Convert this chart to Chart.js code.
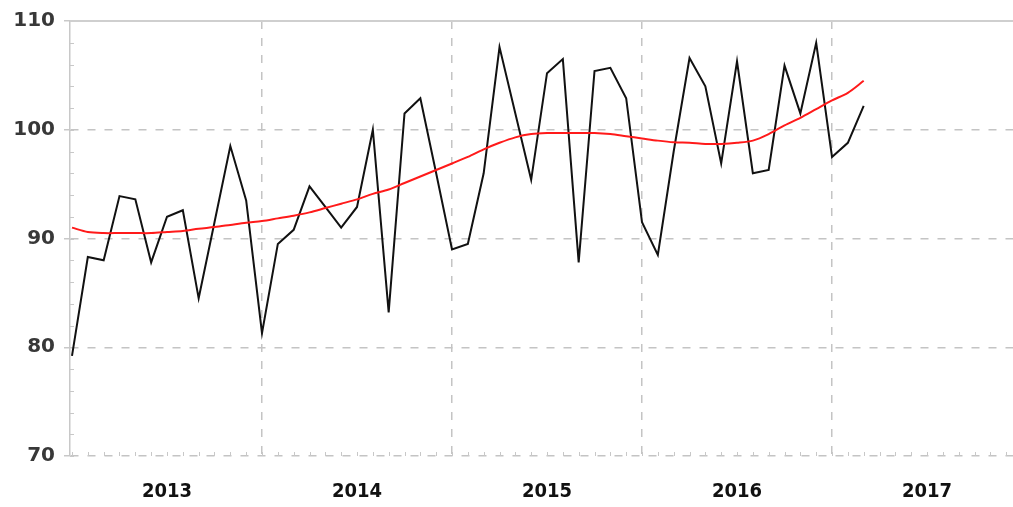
<!DOCTYPE html>
<html>
<head>
<meta charset="utf-8">
<script src="https://cdn.jsdelivr.net/npm/chart.js@4.4.0/dist/chart.umd.min.js"></script>
<style>
  html, body { margin: 0; padding: 0; background: #fff; }
  #wrap { width: 1013px; height: 507px; position: relative; }
</style>
</head>
<body>
<div id="wrap"><canvas id="c"></canvas></div>
<script>
// Monthly index, Jan 2013 .. Mar 2017 (month offset 0 = Jan 2013)
const yearLabels = ['2013', '2014', '2015', '2016', '2017'];
const yTickValues = [70, 80, 90, 100, 110];

// observed monthly series
const observed = [
  79.2, 88.3, 88.0, 93.9, 93.6, 87.8, 92.0, 92.6, 84.5, 91.5, 98.5, 93.5,
  81.3, 89.5, 90.8, 94.8, 92.9, 91.0, 92.9, 100.0, 83.2, 101.5, 102.9, 96.0,
  89.0, 89.5, 96.0, 107.6, 101.5, 95.4, 105.2, 106.5, 87.8, 105.4, 105.7, 102.9,
  91.5, 88.5, 98.0, 106.6, 104.0, 96.9, 106.3, 96.0, 96.3, 105.9, 101.5, 108.0,
  97.5, 98.8, 102.2
];

// smoothed trend
const trend = [
  91.0, 90.6, 90.5, 90.5, 90.5, 90.5, 90.6, 90.7, 90.9, 91.05, 91.25, 91.45,
  91.6, 91.85, 92.1, 92.4, 92.8, 93.2, 93.6, 94.1, 94.5, 95.1, 95.7, 96.3,
  96.9, 97.5, 98.2, 98.8, 99.3, 99.6, 99.7, 99.7, 99.7, 99.7, 99.6, 99.4,
  99.2, 99.0, 98.85, 98.8, 98.7, 98.7, 98.8, 99.0, 99.6, 100.4, 101.1, 101.9,
  102.7, 103.4, 104.5
];

const toPoints = arr => arr.map((v, i) => ({ x: i, y: v }));

const GRID = '#c4c4c4';

// small month ticks on the bottom edge, minor ticks on the left axis, solid top rule
const axisDecor = {
  id: 'axisDecor',
  beforeDatasetsDraw(chart) {
    const { ctx, chartArea: a, scales: { x, y } } = chart;
    ctx.save();
    ctx.strokeStyle = '#c8c8c8';
    ctx.lineWidth = 1;
    ctx.beginPath();
    for (let v = y.min; v <= y.max; v += 2) {
      const py = Math.round(y.getPixelForValue(v)) + 0.5;
      ctx.moveTo(a.left, py);
      ctx.lineTo(a.left + 4, py);
    }
    for (let m = 0; m <= x.max; m++) {
      const px = Math.round(x.getPixelForValue(m)) + 0.5;
      ctx.moveTo(px, a.bottom);
      ctx.lineTo(px, a.bottom - 4);
    }
    ctx.stroke();
    ctx.strokeStyle = '#cfcfcf';
    ctx.lineWidth = 2;
    ctx.beginPath();
    const top = Math.round(y.getPixelForValue(y.max));
    ctx.moveTo(a.left, top);
    ctx.lineTo(a.right, top);
    ctx.stroke();
    ctx.restore();
  }
};

new Chart(document.getElementById('c'), {
  type: 'line',
  data: {
    datasets: [
      {
        data: toPoints(trend),
        borderColor: '#ff1a1a',
        borderWidth: 2,
        pointRadius: 0,
        tension: 0.3,
        fill: false
      },
      {
        data: toPoints(observed),
        borderColor: '#111111',
        borderWidth: 2,
        pointRadius: 0,
        tension: 0,
        fill: false
      }
    ]
  },
  options: {
    responsive: true,
    maintainAspectRatio: false,
    animation: false,
    layout: { padding: { top: 20, right: 0, bottom: 0, left: 0 } },
    plugins: { legend: { display: false }, tooltip: { enabled: false } },
    scales: {
      x: {
        type: 'linear',
        min: -0.126,
        max: 59.43,
        afterFit(scale) { scale.height = 51; },
        afterBuildTicks(scale) {
          const t = [];
          for (let v = 0; v <= 54; v += 6) t.push({ value: v });
          scale.ticks = t;
        },
        ticks: {
          autoSkip: false,
          maxRotation: 0,
          padding: 24,
          color: '#111',
          font: { family: "'DejaVu Sans Condensed', 'DejaVu Sans'", size: 20, weight: 'bold' },
          callback: v => (v % 12 === 6 ? yearLabels[(v - 6) / 12] : '')
        },
        grid: {
          drawTicks: false,
          color: ctx => (ctx.tick && ctx.tick.value % 12 === 0 && ctx.tick.value > 0 ? GRID : 'transparent'),
          lineWidth: 1.5
        },
        border: { display: false, dash: [8, 9] }
      },
      y: {
        min: 70,
        max: 110,
        afterFit(scale) { scale.width = 70; },
        afterBuildTicks(scale) {
          scale.ticks = yTickValues.map(v => ({ value: v }));
        },
        ticks: {
          padding: 9,
          color: '#383838',
          font: { family: 'DejaVu Sans', size: 20, weight: 'bold' }
        },
        grid: {
          color: ctx => (ctx.tick && ctx.tick.value === 110 ? 'transparent' : GRID),
          lineWidth: 1.5,
          tickLength: 6,
          tickColor: '#c8c8c8',
          tickBorderDash: []
        },
        border: { display: true, color: '#c8c8c8', width: 1.5, dash: [8, 9] }
      }
    }
  },
  plugins: [axisDecor]
});
</script>
</body>
</html>
